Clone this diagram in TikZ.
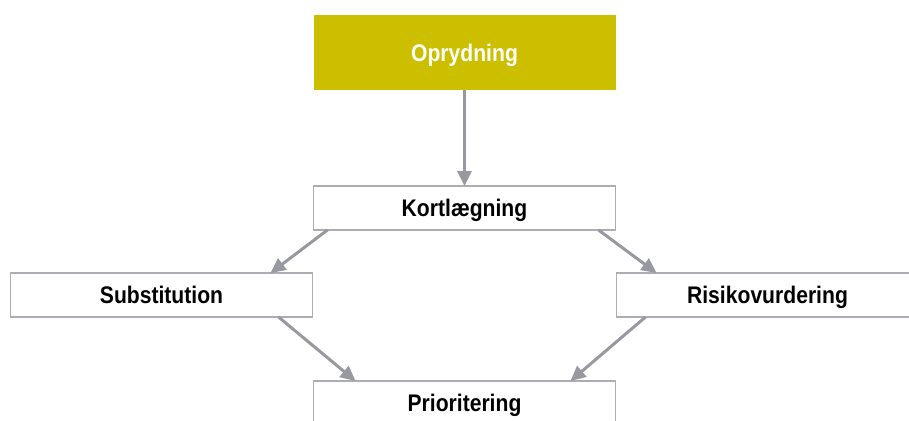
\documentclass[tikz,border=0pt]{standalone}
\usepackage{fontspec}
\setmainfont[FakeStretch=0.88]{Liberation Sans}
\usetikzlibrary{positioning,arrows.meta}

\definecolor{oliven}{RGB}{204,191,0}
\definecolor{pilgraa}{RGB}{152,152,160}
\definecolor{kantgraa}{RGB}{172,172,178}

\begin{document}
\begin{tikzpicture}[x=1pt, y=1pt, ->, >={Triangle[length=15pt,width=14pt]},
			line width=3pt, draw=pilgraa, font=\fontsize{24}{27}\selectfont\bfseries]
			\tikzstyle{boks}=[draw=kantgraa, line width=1.5pt, fill=white, minimum width=302pt,
			minimum height=44pt, inner sep=0pt, outer sep=0pt, text height=17pt, text depth=0pt]
			\clip (0,0) rectangle (909,-420);
			\node[boks, fill=oliven, draw=none, text=white, minimum height=75pt] (oprydning)
			at (464.5,-52.5) {Oprydning};
			\node[boks] (kortlaegning) [below=96pt of oprydning] {Kortlægning};
			\node[boks] (substitution) [below left=43pt and 1pt of kortlaegning] {Substitution};
			\node[boks] (risiko) [below right=43pt and 1pt of kortlaegning] {Risikovurdering};
			\node[boks] (prioritering) [below=151pt of kortlaegning] {Prioritering};

			\draw[pilgraa] (oprydning) -- (kortlaegning);
			\draw[pilgraa] ([xshift=14pt]kortlaegning.south west) -- ([xshift=-42pt]substitution.north east);
			\draw[pilgraa] ([xshift=-17pt]kortlaegning.south east) -- ([xshift=40pt]risiko.north west);
			\draw[pilgraa] ([xshift=-34pt]substitution.south east) -- ([xshift=42pt]prioritering.north west);
			\draw[pilgraa] ([xshift=29pt]risiko.south west) -- ([xshift=-45pt]prioritering.north east);
		\end{tikzpicture}
\end{document}
